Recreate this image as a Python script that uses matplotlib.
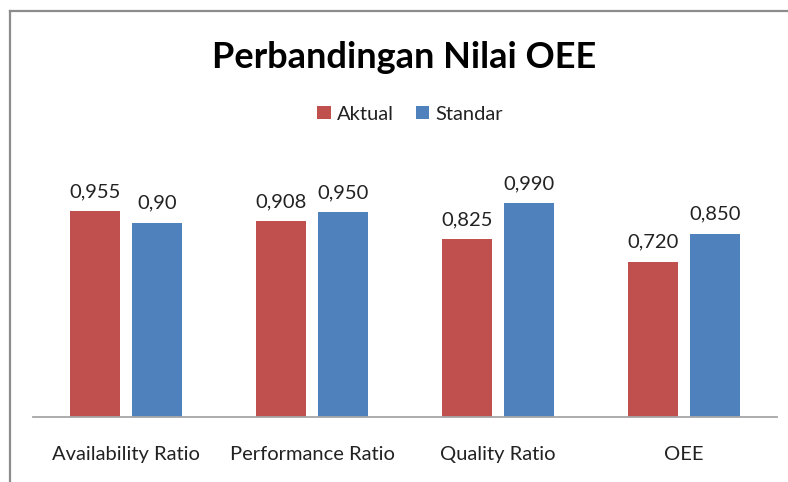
import matplotlib
matplotlib.use("Agg")
import matplotlib.pyplot as plt
from matplotlib.lines import Line2D
import numpy as np

categories = ["Availability Ratio", "Performance Ratio", "Quality Ratio", "OEE"]
aktual = [0.955, 0.908, 0.825, 0.720]
standar = [0.90, 0.950, 0.990, 0.850]
aktual_labels = ["0,955", "0,908", "0,825", "0,720"]
standar_labels = ["0,90", "0,950", "0,990", "0,850"]

plt.rcParams['font.family'] = ['Lato', 'DejaVu Sans']

W, H = 788, 482
fig = plt.figure(figsize=(W / 100, H / 100), dpi=100)

# axes in pixel coordinates
ax_l, ax_r, ax_b = 33, 777, 417
unit = 215.7
ymax = 1.2
ax = fig.add_axes([ax_l / W, (H - ax_b) / H, (ax_r - ax_l) / W, ymax * unit / H])

x = np.arange(len(categories))
off = 0.1667
bw = 0.269
red = "#C0504D"
blue = "#4F81BD"
fs = 14.5
b1 = ax.bar(x - off, aktual, bw, color=red, label="Aktual")
b2 = ax.bar(x + off, standar, bw, color=blue, label="Standar")
ax.bar_label(b1, labels=aktual_labels, padding=8, fontsize=fs, color="#222222")
ax.bar_label(b2, labels=standar_labels, padding=8, fontsize=fs, color="#222222")

ax.set_xlim(-0.5, len(categories) - 0.5)
ax.set_ylim(0, ymax)
ax.set_yticks([])
ax.set_xticks(x)
ax.set_xticklabels(categories, fontsize=fs, color="#222222")
ax.tick_params(axis="x", length=0, pad=21)
for s in ["top", "left", "right"]:
    ax.spines[s].set_visible(False)
ax.spines["bottom"].set_color("#A6A6A6")
ax.spines["bottom"].set_linewidth(1.3)
ax.patch.set_alpha(0)

fig.text(404 / W, 1 - 57 / H, "Perbandingan Nilai OEE", ha="center", va="center",
         fontsize=26, fontweight="bold", color="black")

leg = fig.legend(handles=[b1, b2], labels=["Aktual", "Standar"], loc="center",
                 bbox_to_anchor=(410 / W, 1 - 114 / H), ncol=2, frameon=False,
                 fontsize=fs, handlelength=0.65, handleheight=0.65, handletextpad=0.3,
                 columnspacing=1.1)
for t in leg.get_texts():
    t.set_color("#222222")

# chart border (top and left visible)
fig.add_artist(Line2D([10 / W, 10 / W], [0, 1 - 11 / H], transform=fig.transFigure,
                      color="#8C8C8C", linewidth=1.6))
fig.add_artist(Line2D([10 / W, 1], [1 - 11 / H, 1 - 11 / H], transform=fig.transFigure,
                      color="#8C8C8C", linewidth=1.6))

fig.savefig("out.png", dpi=100)
